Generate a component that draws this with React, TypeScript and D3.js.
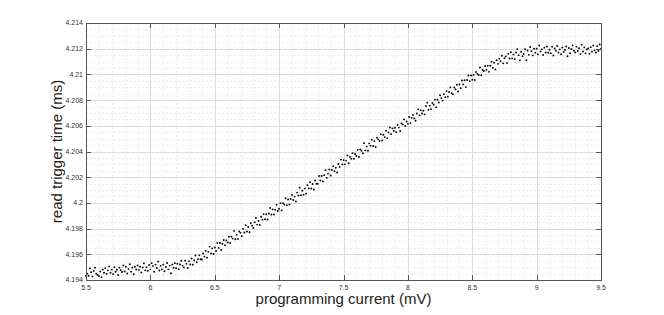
import React, { useRef, useEffect } from 'react';
import * as d3 from 'd3';

// programming current sweep (mV)
const currentStart = 5.5;
const currentStep = 0.01;

// read trigger time (ms)
// flat part, 5.50 .. 6.49 mV
const readTimeFlat = [
    4.19432, 4.1945, 4.19433, 4.19489, 4.19461, 4.19427, 4.19471, 4.19496, 4.19449, 4.1944,
    4.19431, 4.19467, 4.19422, 4.19481, 4.19456, 4.19491, 4.19448, 4.19475, 4.19506, 4.19456,
    4.19481, 4.19446, 4.195, 4.19464, 4.1948, 4.19439, 4.19496, 4.19477, 4.19462, 4.19513,
    4.19467, 4.19503, 4.19451, 4.19485, 4.19522, 4.19465, 4.19495, 4.19445, 4.19504, 4.19482,
    4.19513, 4.19479, 4.19503, 4.19459, 4.19498, 4.19529, 4.19475, 4.19499, 4.19472, 4.19517,
    4.19483, 4.19531, 4.19508, 4.19464, 4.1952, 4.19493, 4.19543, 4.19474, 4.1951, 4.19483,
    4.1952, 4.19468, 4.19502, 4.19532, 4.19483, 4.19512, 4.19452, 4.19521, 4.19495, 4.19531,
    4.19491, 4.19527, 4.19484, 4.19521, 4.1955, 4.19512, 4.19498, 4.1955, 4.19526, 4.19493,
    4.19545, 4.19521, 4.19567, 4.19519, 4.19553, 4.19591, 4.19538, 4.19561, 4.19592, 4.19561,
    4.1956, 4.19606, 4.19582, 4.19627, 4.19574, 4.19619, 4.1966, 4.19607, 4.19646, 4.19602
];

// linear rise, 6.50 .. 8.49 mV
const readTimeRise = [
    4.19653, 4.19626, 4.19688, 4.1965, 4.19688, 4.19633, 4.19682, 4.19711, 4.19671, 4.19708,
    4.19692, 4.19736, 4.19688, 4.19736, 4.19722, 4.19782, 4.19717, 4.19752, 4.1972, 4.19777,
    4.19767, 4.1974, 4.19798, 4.1977, 4.19826, 4.19777, 4.19813, 4.19772, 4.19842, 4.19823,
    4.19805, 4.19849, 4.19882, 4.19831, 4.1986, 4.19828, 4.19892, 4.19869, 4.19913, 4.19873,
    4.19912, 4.19871, 4.19917, 4.1996, 4.1991, 4.1995, 4.1991, 4.19946, 4.19986, 4.19937,
    4.19955, 4.19998, 4.19942, 4.19998, 4.19987, 4.20036, 4.19983, 4.20027, 4.19988, 4.20031,
    4.20062, 4.20023, 4.20049, 4.20011, 4.2008, 4.20058, 4.20118, 4.20059, 4.20095, 4.20064,
    4.20112, 4.20072, 4.20137, 4.20113, 4.20161, 4.20112, 4.20147, 4.20104, 4.20174, 4.20149,
    4.20149, 4.20209, 4.20174, 4.20209, 4.20166, 4.20216, 4.20255, 4.20195, 4.20228, 4.2026,
    4.20213, 4.20256, 4.20286, 4.20246, 4.20273, 4.20237, 4.20303, 4.2028, 4.20337, 4.203,
    4.20333, 4.203, 4.20329, 4.20369, 4.20308, 4.20358, 4.20344, 4.20387, 4.20343, 4.20381,
    4.20365, 4.20413, 4.20357, 4.20415, 4.20405, 4.20386, 4.20464, 4.20409, 4.20438, 4.20406,
    4.20463, 4.20444, 4.20492, 4.20443, 4.20481, 4.20435, 4.20507, 4.20494, 4.20481, 4.20534,
    4.20486, 4.2053, 4.20512, 4.20561, 4.20504, 4.20548, 4.20587, 4.20535, 4.2058, 4.2056,
    4.20585, 4.2055, 4.20607, 4.20586, 4.20559, 4.20619, 4.20611, 4.2065, 4.20598, 4.20633,
    4.20615, 4.20669, 4.20621, 4.20662, 4.20685, 4.20657, 4.20639, 4.20696, 4.20728, 4.20681,
    4.20721, 4.20696, 4.20717, 4.20689, 4.20754, 4.2078, 4.20724, 4.20757, 4.2073, 4.20777,
    4.20764, 4.20804, 4.20745, 4.20803, 4.20781, 4.20838, 4.20814, 4.20796, 4.20846, 4.20822,
    4.2087, 4.20827, 4.20863, 4.20899, 4.20854, 4.20845, 4.20899, 4.20884, 4.2092, 4.20867,
    4.20921, 4.20893, 4.20952, 4.20922, 4.20954, 4.20901, 4.20956, 4.20991, 4.20948, 4.20992
];

// saturation, 8.50 .. 9.50 mV
const readTimeTop = [
    4.20958, 4.20996, 4.20956, 4.21019, 4.21004, 4.20995, 4.21054, 4.20993, 4.21035, 4.21027,
    4.21065, 4.21035, 4.21067, 4.2102, 4.21067, 4.21099, 4.21052, 4.21091, 4.21039, 4.2111,
    4.21082, 4.21123, 4.21102, 4.21145, 4.21086, 4.21126, 4.2114, 4.21088, 4.2116, 4.21124,
    4.21172, 4.21125, 4.21154, 4.21118, 4.2117, 4.21197, 4.2115, 4.21109, 4.21176, 4.21141,
    4.21159, 4.21196, 4.2111, 4.21186, 4.21152, 4.21213, 4.21181, 4.21148, 4.212, 4.21169,
    4.212, 4.21156, 4.21225, 4.21178, 4.21195, 4.21151, 4.21208, 4.21171, 4.21217, 4.21168,
    4.21192, 4.21165, 4.21215, 4.21147, 4.21201, 4.21184, 4.21221, 4.21171, 4.21195, 4.21157,
    4.21209, 4.21175, 4.2119, 4.21217, 4.21141, 4.21205, 4.21165, 4.21198, 4.21225, 4.21184,
    4.2117, 4.21216, 4.21182, 4.21204, 4.21158, 4.21231, 4.21178, 4.2121, 4.21164, 4.21195,
    4.21202, 4.2116, 4.21212, 4.21177, 4.21225, 4.21187, 4.21171, 4.2122, 4.21184, 4.21233,
    4.21199
];

const xTickValues = [5.5, 6, 6.5, 7, 7.5, 8, 8.5, 9, 9.5];
const xTickLabels = ['5.5', '6', '6.5', '7', '7.5', '8', '8.5', '9', '9.5'];
const yTickValues = [4.194, 4.196, 4.198, 4.2, 4.202, 4.204, 4.206, 4.208, 4.21, 4.212, 4.214];
const yTickLabels = ['4.194', '4.196', '4.198', '4.2', '4.202', '4.204', '4.206', '4.208', '4.21', '4.212', '4.214'];

const App = () => {
    const chartRef = useRef<SVGSVGElement | null>(null);

    useEffect(() => {
        if (!chartRef.current) return;
        const root = d3.select(chartRef.current);
        root.selectAll('*').remove();

        const W = 664;
        const H = 315;
        const margin = { top: 23, right: 63, bottom: 35, left: 86 };
        const width = W - margin.left - margin.right;
        const height = H - margin.top - margin.bottom;
        const font = 'Liberation Sans, Arial, sans-serif';

        const readTime = [...readTimeFlat, ...readTimeRise, ...readTimeTop];
        const data = readTime.map((t, i) => ({ current: currentStart + i * currentStep, time: t }));

        const x = d3.scaleLinear().domain([5.5, 9.5]).range([0, width]);
        const y = d3.scaleLinear().domain([4.194, 4.214]).range([height, 0]);

        const svg = root.append('g').attr('transform', `translate(${margin.left},${margin.top})`);

        // minor grid (dotted)
        svg.append('g')
            .selectAll('line')
            .data(x.ticks(40))
            .join('line')
            .attr('x1', d => Math.round(x(d)) + 0.5).attr('x2', d => Math.round(x(d)) + 0.5)
            .attr('y1', 0).attr('y2', height)
            .attr('stroke', '#e9e9e9')
            .attr('stroke-dasharray', '2,2');
        svg.append('g')
            .selectAll('line')
            .data(y.ticks(40))
            .join('line')
            .attr('x1', 0).attr('x2', width)
            .attr('y1', d => Math.round(y(d)) + 0.5).attr('y2', d => Math.round(y(d)) + 0.5)
            .attr('stroke', '#e9e9e9')
            .attr('stroke-dasharray', '2,2');

        // major grid
        svg.append('g')
            .selectAll('line')
            .data(xTickValues)
            .join('line')
            .attr('x1', d => Math.round(x(d)) + 0.5).attr('x2', d => Math.round(x(d)) + 0.5)
            .attr('y1', 0).attr('y2', height)
            .attr('stroke', '#dcdcdc');
        svg.append('g')
            .selectAll('line')
            .data(yTickValues)
            .join('line')
            .attr('x1', 0).attr('x2', width)
            .attr('y1', d => Math.round(y(d)) + 0.5).attr('y2', d => Math.round(y(d)) + 0.5)
            .attr('stroke', '#dcdcdc');

        // data points
        svg.append('g')
            .selectAll('circle')
            .data(data)
            .join('circle')
            .attr('cx', d => x(d.current))
            .attr('cy', d => y(d.time))
            .attr('r', 0.95)
            .attr('fill', '#000');

        // box + inward ticks
        const tickLen = 5;
        const axisColor = '#555';
        svg.append('rect')
            .attr('x', 0.5).attr('y', 0.5)
            .attr('width', width).attr('height', height)
            .attr('fill', 'none')
            .attr('stroke', axisColor);

        const xt = svg.append('g').attr('stroke', axisColor);
        xTickValues.forEach(v => {
            const px = Math.round(x(v)) + 0.5;
            xt.append('line').attr('x1', px).attr('x2', px).attr('y1', height).attr('y2', height - tickLen);
            xt.append('line').attr('x1', px).attr('x2', px).attr('y1', 0).attr('y2', tickLen);
        });
        const yt = svg.append('g').attr('stroke', axisColor);
        yTickValues.forEach(v => {
            const py = Math.round(y(v)) + 0.5;
            yt.append('line').attr('x1', 0).attr('x2', tickLen).attr('y1', py).attr('y2', py);
            yt.append('line').attr('x1', width).attr('x2', width - tickLen).attr('y1', py).attr('y2', py);
        });

        // tick labels
        svg.append('g')
            .selectAll('text')
            .data(xTickValues)
            .join('text')
            .attr('x', d => x(d))
            .attr('y', height + 10)
            .attr('text-anchor', 'middle')
            .attr('font-family', font)
            .attr('font-size', 7)
            .attr('fill', '#333')
            .text((d, i) => xTickLabels[i]);

        svg.append('g')
            .selectAll('text')
            .data(yTickValues)
            .join('text')
            .attr('x', -3)
            .attr('y', d => y(d))
            .attr('dy', '0.35em')
            .attr('text-anchor', 'end')
            .attr('font-family', font)
            .attr('font-size', 7)
            .attr('fill', '#333')
            .text((d, i) => yTickLabels[i]);

        // axis titles
        svg.append('text')
            .attr('x', width / 2)
            .attr('y', height + 24)
            .attr('text-anchor', 'middle')
            .attr('font-family', font)
            .attr('font-size', 15)
            .attr('fill', '#222')
            .text('programming current (mV)');

        svg.append('text')
            .attr('transform', 'rotate(-90)')
            .attr('x', -height / 2)
            .attr('y', -24)
            .attr('text-anchor', 'middle')
            .attr('font-family', font)
            .attr('font-size', 15)
            .attr('fill', '#222')
            .text('read trigger time (ms)');
    }, []);

    return (
        <svg
            ref={chartRef}
            width={664}
            height={315}
            style={{ position: 'absolute', left: 0, top: 0, background: '#fff' }}
        />
    );
};

export default App;
